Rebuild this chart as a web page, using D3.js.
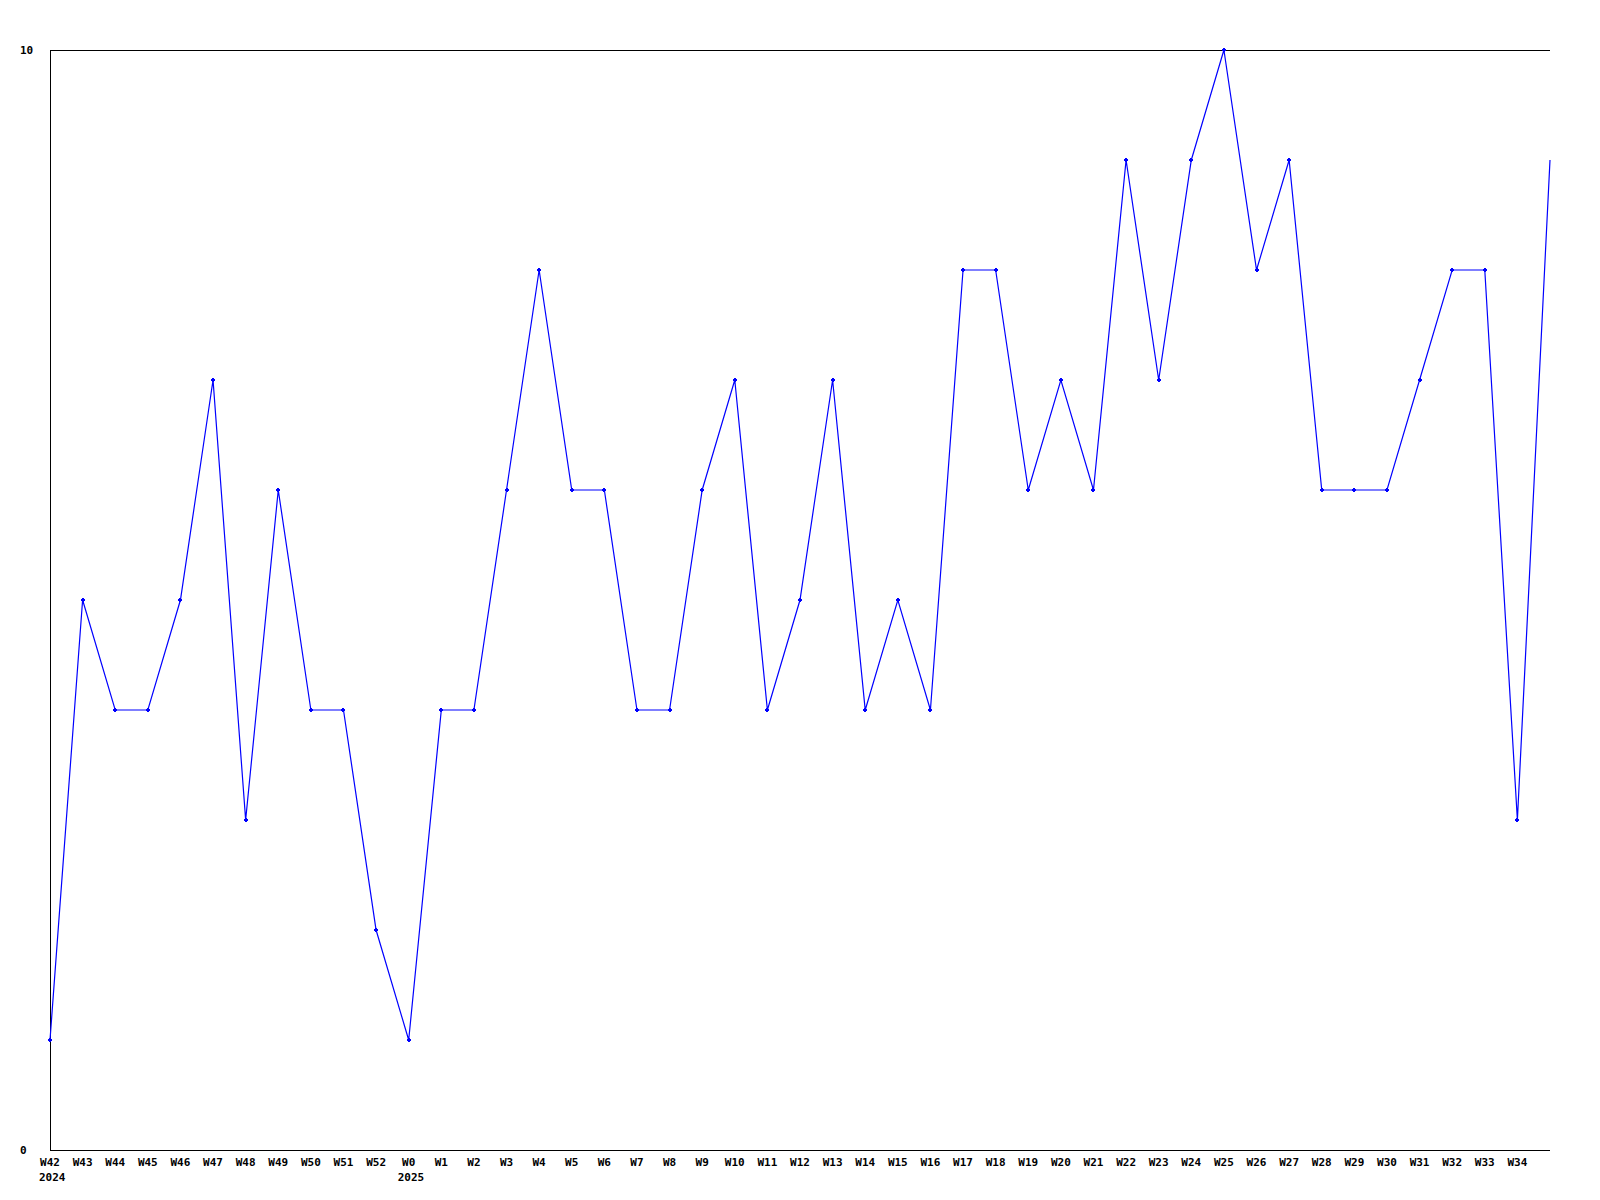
<!DOCTYPE html>
<html>
<head>
<meta charset="utf-8">
<script src="https://cdn.jsdelivr.net/npm/d3@7"></script>
<style>
  html, body { margin: 0; padding: 0; background: #fff; }
  svg { display: block; }
  text { font-family: "DejaVu Sans Mono", "Liberation Mono", monospace; font-weight: bold; font-size: 11px; fill: #000; }
</style>
</head>
<body>
<svg id="chart" width="1600" height="1200"></svg>
<script>
const weeks = ["W42","W43","W44","W45","W46","W47","W48","W49","W50","W51","W52",
  "W0","W1","W2","W3","W4","W5","W6","W7","W8","W9","W10","W11","W12","W13","W14","W15","W16",
  "W17","W18","W19","W20","W21","W22","W23","W24","W25","W26","W27","W28","W29","W30","W31",
  "W32","W33","W34","W35"];
const values = [1,5,4,4,5,7,3,6,4,4,2,
  1,4,4,6,8,6,6,4,4,6,7,4,5,7,4,5,4,
  8,8,6,7,6,9,7,9,10,8,9,6,6,6,7,
  8,8,3,9];
const tickLabels = weeks.slice(0, weeks.length - 1);
const yearLabels = [{week: "W42", text: "2024"}, {week: "W0", text: "2025"}];
const yTicks = [0, 10];

const svg = d3.select("#chart");
const mLeft = 50, mRight = 1550, mTop = 50, mBottom = 1150;
const x = d3.scalePoint().domain(weeks).range([mLeft, mRight]);
const y = d3.scaleLinear().domain([0, 10]).range([mBottom, mTop]);

// frame: top, left, bottom
const frame = svg.append("g").attr("stroke", "#000").attr("stroke-width", 1).attr("shape-rendering", "crispEdges");
frame.append("line").attr("x1", mLeft).attr("x2", mRight).attr("y1", y(10) + 0.5).attr("y2", y(10) + 0.5);
frame.append("line").attr("x1", mLeft + 0.5).attr("x2", mLeft + 0.5).attr("y1", mTop).attr("y2", mBottom);
frame.append("line").attr("x1", mLeft).attr("x2", mRight).attr("y1", y(0) + 0.5).attr("y2", y(0) + 0.5);

// y tick labels
svg.append("g").selectAll("text").data(yTicks).join("text")
  .attr("x", 20)
  .attr("y", d => y(d) + 4)
  .text(d => d);

// x tick labels
svg.append("g").selectAll("text").data(tickLabels).join("text")
  .attr("x", d => x(d))
  .attr("y", mBottom + 16)
  .attr("text-anchor", "middle")
  .text(d => d);

svg.append("g").selectAll("text").data(yearLabels).join("text")
  .attr("x", d => x(d.week) - 11)
  .attr("y", mBottom + 31)
  .text(d => d.text);

// line
const pts = weeks.map((w, i) => [x(w), y(values[i])]);
svg.append("path")
  .attr("d", d3.line()(pts))
  .attr("fill", "none")
  .attr("stroke", "#0000ff")
  .attr("stroke-width", 1.2);

// markers (small plus-diamonds), skipping the final point
const mk = svg.append("g").attr("fill", "#0000ff").attr("shape-rendering", "crispEdges");
pts.slice(0, pts.length - 1).forEach(p => {
  mk.append("rect").attr("x", Math.round(p[0]) - 2).attr("y", Math.round(p[1]) - 1).attr("width", 4).attr("height", 2);
  mk.append("rect").attr("x", Math.round(p[0]) - 1).attr("y", Math.round(p[1]) - 2).attr("width", 2).attr("height", 4);
});
</script>
</body>
</html>
